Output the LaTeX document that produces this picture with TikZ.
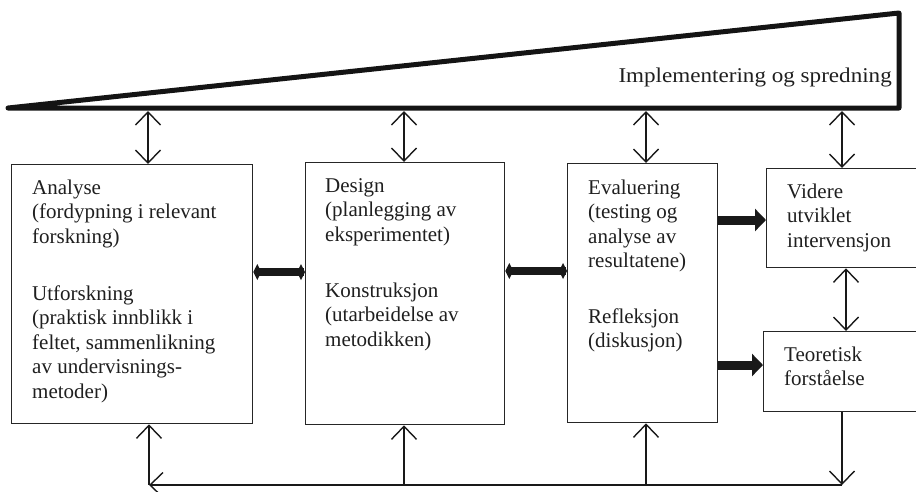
\documentclass[tikz,border=0pt]{standalone}
\usepackage{fontspec}
\setmainfont{Liberation Serif}
\usetikzlibrary{arrows.meta}
\begin{document}
\begin{tikzpicture}[x=1pt,y=-1pt,
  box/.style={draw=black!85, line width=1.3pt, inner sep=0pt, anchor=north west},
  txt/.style={anchor=north west, inner sep=0pt, align=left, text=black!88,
    font=\fontsize{21}{24.5}\selectfont},
  barb/.tip={Straight Barb[length=13pt,width=25pt,line width=1.4pt]},
  thin/.style={line width=1.4pt, black!90},
  dbl/.style={thin, barb-barb},
  fatd/.style={line width=8pt, black!90, {Kite[length=8pt,width=16pt,inset=4pt]}-{Kite[length=8pt,width=16pt,inset=4pt]}},
  fata/.style={line width=9pt, black!90, -{Triangle[length=11pt,width=22pt]}}
]
\useasboundingbox (0,0) rectangle (916,491);
\clip (0,0) rectangle (916,491);

% wedge
\draw[line width=5pt, line join=round, black!92] (8,108) -- (899,13) -- (899,108) -- cycle;
\node[anchor=base east, inner sep=0pt, text=black!88, font=\fontsize{21}{24.5}\selectfont] (impl) at (892,82) {\scalebox{1.1}[1]{Implementering og spredning}};

% boxes
\node[box, minimum width=241pt, minimum height=259pt] (b1) at (11,164) {};
\node[box, minimum width=199pt, minimum height=262pt] (b2) at (305,162) {};
\node[box, minimum width=150pt, minimum height=259pt] (b3) at (567,163) {};
\node[box, minimum width=170pt, minimum height=99pt] (b4) at (766,168) {};
\node[box, minimum width=170pt, minimum height=80pt] (b5) at (763,331) {};

% texts (top = baseline - 17.15)
\node[txt] (t1a) at (32,176.85) {\strut Analyse\\(fordypning i relevant\\forskning)};
\node[txt] (t1b) at (32,282.85) {\strut Utforskning\\(praktisk innblikk i\\feltet, sammenlikning\\av undervisnings-\\metoder)};
\node[txt] (t2a) at (325,174.85) {\strut Design\\(planlegging av\\eksperimentet)};
\node[txt] (t2b) at (325,279.85) {\strut Konstruksjon\\(utarbeidelse av\\metodikken)};
\node[txt] (t3a) at (588,176.85) {\strut Evaluering\\(testing og\\analyse av\\resultatene)};
\node[txt] (t3b) at (588,305.85) {\strut Refleksjon\\(diskusjon)};
\node[txt] (t4) at (787,180.85) {\strut Videre\\utviklet\\intervensjon};
\node[txt] (t5) at (784,343.85) {\strut Teoretisk\\forståelse};

% top arrows
\coordinate (w1) at (148,111);
\coordinate (w2) at (404,111);
\coordinate (w3) at (646,111);
\coordinate (w4) at (842,111);
\draw[dbl] (w1) -- (w1 |- b1.north);
\draw[dbl] (w2) -- (w2 |- b2.north);
\draw[dbl] (w3) -- (w3 |- b3.north);
\draw[dbl] (w4) -- (w4 |- b4.north);

% thick connectors
\draw[fatd] (b1.east |- 0,272) -- (b2.west |- 0,272);
\draw[fatd] (b2.east |- 0,271) -- (b3.west |- 0,271);
\draw[fata] (b3.east |- 0,220) -- (b4.west |- 0,220);
\draw[fata] (b3.east |- 0,365) -- (b5.west |- 0,365);

% between b4 and b5
\coordinate (m45) at (846,300);
\draw[dbl] (m45 |- b4.south) -- (m45 |- b5.north);

% bottom feedback
\coordinate (br) at (842,485);
\coordinate (bl) at (149,485);
\coordinate (u2) at (404,485);
\coordinate (u3) at (646,485);
\draw[thin, -barb] (br |- b5.south) -- (br);
\draw[thin, -barb] (br) -- (bl);
\draw[thin, -barb] (bl) -- (bl |- b1.south);
\draw[thin, -barb] (u2) -- (u2 |- b2.south);
\draw[thin, -barb] (u3) -- (u3 |- b3.south);
\end{tikzpicture}
\end{document}
